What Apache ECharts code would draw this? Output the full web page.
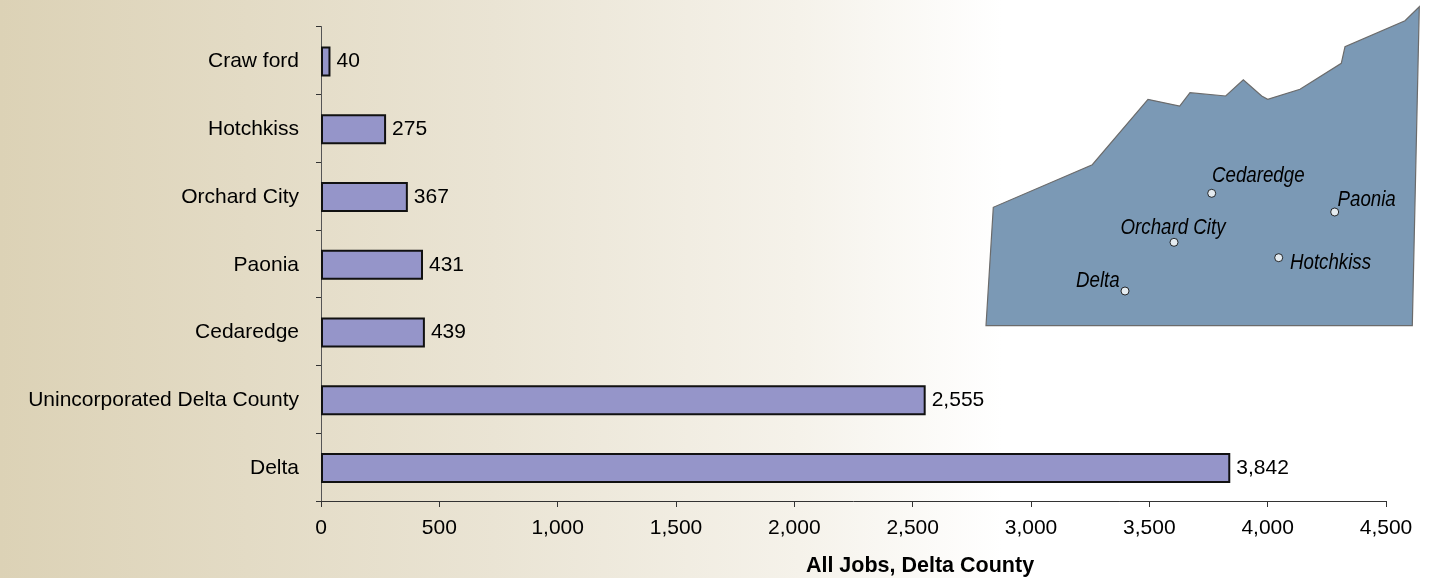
<!DOCTYPE html>
<html><head><meta charset="utf-8">
<style>html,body{margin:0;padding:0;background:#fff}#c{width:1453px;height:578px}</style>
<script src="https://cdn.jsdelivr.net/npm/echarts@6/dist/echarts.min.js"></script>
</head><body><div id="c"></div>
<script>
const categories = ['Delta','Unincorporated Delta County','Cedaredge','Paonia','Orchard City','Hotchkiss','Craw ford'];
const jobs = [3842,2555,439,431,367,275,40];
const valueTicks = [0,500,1000,1500,2000,2500,3000,3500,4000,4500];
const axisTitle = 'All Jobs, Delta County';
const mapOutline = [[986,325.7],[993.3,207.3],[1092.3,164.7],[1148,99.3],[1179.7,106],[1190,92.7],[1225.7,96],[1243.3,79.7],[1261.7,96],[1267.7,99.3],[1300,89.3],[1341.3,63.3],[1345,46.7],[1405,20.7],[1419.3,6.7],[1412.3,325.7]];
const townNames = ['Cedaredge','Paonia','Orchard City','Hotchkiss','Delta'];
const townPoints = [[1211.7,193.3],[1334.7,212],[1174,242.3],[1278.7,257.7],[1125,291]];
const townLabelAnchors = [[1212,176],[1337.5,200],[1120.5,228.3],[1290,262.7],[1076,281]];
const font = 'Liberation Sans, Arial, sans-serif';
const chart = echarts.init(document.getElementById('c'),null,{renderer:'canvas'});
chart.setOption({
  animation:false,
  backgroundColor:new echarts.graphic.LinearGradient(0,0,1,0,[
    {offset:0,color:'#dcd2b6'},{offset:0.34,color:'#eae4d4'},{offset:0.55,color:'#f5f2ea'},{offset:0.69,color:'#ffffff'},{offset:1,color:'#ffffff'}]),
  title:{text:axisTitle,left:915,top:550,textAlign:'center',textStyle:{fontFamily:font,fontSize:21.5,fontWeight:'bold',color:'#000'}},
  grid:[
    {left:321,top:26.5,width:1065,height:474.5},
    {left:0,top:0,width:1453,height:578},
    {left:321,top:27.5,width:1065,height:474.5}
  ],
  xAxis:[
    {type:'value',gridIndex:0,min:0,max:4500,interval:500,
     axisLine:{show:true,lineStyle:{color:'#333',width:1}},
     axisTick:{show:true,length:6,lineStyle:{color:'#333'}},splitLine:{show:false},
     axisLabel:{margin:17,fontFamily:font,fontSize:21,color:'#000',showMaxLabel:true,showMinLabel:true,
       formatter:v=>v.toLocaleString('en-US')},customValues:valueTicks},
    {type:'value',gridIndex:1,min:0,max:1453,show:false},
    {type:'value',gridIndex:2,min:0,max:4500,show:false}
  ],
  yAxis:[
    {type:'category',gridIndex:0,data:categories,
     axisLine:{show:true,lineStyle:{color:'#555',width:1}},
     axisTick:{show:true,length:5,alignWithLabel:false,lineStyle:{color:'#333'}},
     axisLabel:{show:false}},
    {type:'value',gridIndex:1,min:0,max:578,inverse:true,show:false},
    {type:'category',gridIndex:2,data:categories,
     axisLine:{show:false},axisTick:{show:false},
     axisLabel:{margin:22,fontFamily:font,fontSize:21,color:'#000'}}
  ],
  series:[
    {type:'custom',xAxisIndex:1,yAxisIndex:1,silent:true,z:1,
     data:[0],
     renderItem:(p,api)=>({type:'polygon',
        shape:{points:mapOutline.map(c=>api.coord(c))},
        style:{fill:'#7b99b5',stroke:'#6b6b6b',lineWidth:1.2}})},
    {type:'scatter',xAxisIndex:1,yAxisIndex:1,symbolSize:8,z:3,silent:true,
     itemStyle:{color:'#fff',borderColor:'#000',borderWidth:1},
     data:townPoints},
    {type:'custom',xAxisIndex:1,yAxisIndex:1,silent:true,z:3,
     data:townLabelAnchors,
     renderItem:(p,api)=>{
       const c=api.coord([api.value(0),api.value(1)]);
       return {type:'text',x:c[0],y:c[1],scaleX:0.87,
         style:{text:townNames[p.dataIndex],fontFamily:font,fontStyle:'italic',fontSize:21.5,
         fill:'#000',textAlign:'left',textVerticalAlign:'middle'}};
     }},
    {type:'bar',xAxisIndex:2,yAxisIndex:2,data:jobs,barWidth:30,z:2,
     itemStyle:{color:'#9595c9',borderColor:'#111',borderWidth:2},
     label:{show:true,position:'right',distance:6,fontFamily:font,fontSize:21,color:'#000',
       formatter:p=>p.value.toLocaleString('en-US')}}
  ]
});
</script></body></html>
